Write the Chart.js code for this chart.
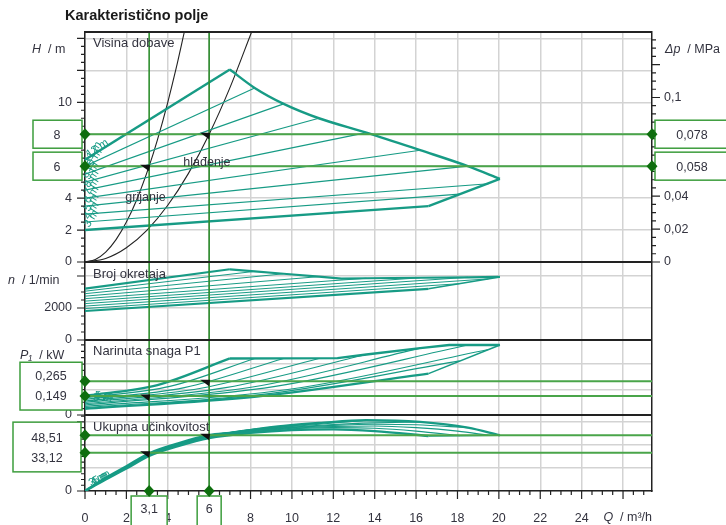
<!DOCTYPE html>
<html>
<head>
<meta charset="utf-8">
<script src="https://cdn.jsdelivr.net/npm/chart.js@4.4.1/dist/chart.umd.min.js"></script>
<style>
  html, body { margin: 0; padding: 0; background: #fff; }
  canvas { display: block; }
</style>
</head>
<body>
<canvas id="pump-chart" width="726" height="525"></canvas>
<script>
// control lines, index 0 = lowest (bold) ... 9 = highest (bold)
const setpoints = [3, 4, 5, 6, 7, 8, 9, 10, 11, 12];
const lineQEnd = [16.6, 18.1, 19.5, 18.5, 16.2, 13.6, 11.3, 9.6, 8.2, 7.0];

const headStart = [2.0, 2.5, 3.0, 3.5, 4.0, 4.5, 5.0, 5.5, 6.0, 6.4];
const headEnd = [3.5, 4.25, 4.9, 6.0, 7.0, 8.1, 9.0, 9.9, 10.9, 12.05];

const speedStart = [1810, 1965, 2120, 2275, 2430, 2585, 2740, 2895, 3050, 3206];
const speedEnd = [3200, 3520, 3820, 3920, 3890, 3860, 3960, 4140, 4290, 4420];

const powerStart = [0.049, 0.058, 0.068, 0.078, 0.088, 0.099, 0.110, 0.122, 0.135, 0.150];
const powerMidQ = [8.3, 9.0, 9.8, 9.2, 8.1, 6.8, 5.6, 4.8, 4.1, 3.5];
const powerMid = [0.145, 0.17, 0.2, 0.225, 0.22, 0.215, 0.21, 0.215, 0.225, 0.235];
const powerEnd = [0.325, 0.425, 0.515, 0.55, 0.525, 0.475, 0.444, 0.444, 0.444, 0.444];

const effQ = [
  [0, 1, 2, 3.1, 4.5, 6, 8, 10, 12, 14, 16.6],
  [0, 1, 2, 3.1, 4.5, 6, 8, 10, 12, 14, 16, 18.1],
  [0, 1, 2, 3.1, 4.5, 6, 8, 10, 12, 14, 16, 18, 19.5],
  [0, 1, 2, 3.1, 4.5, 6, 8, 10, 12, 14, 16, 18.5],
  [0, 1, 2, 3.1, 4.5, 6, 8, 10, 12, 14, 16.2],
  [0, 1, 2, 3.1, 4.5, 6, 8, 10, 12, 13.6],
  [0, 1, 2, 3.1, 4.5, 6, 8, 9.6, 11.3],
  [0, 1, 2, 3.1, 4.5, 6, 8, 9.6],
  [0, 1, 2, 3.1, 4.5, 6, 8.2],
  [0, 1, 2, 3.1, 4.5, 6, 7]
];
const effVal = [
  [0, 10, 19.5, 30.5, 39, 46, 50.5, 53, 53.5, 52, 47.8],
  [0, 10.2, 19.8, 31, 39.5, 46.5, 51, 54, 55, 54.5, 52, 48.1],
  [0, 10.4, 20, 31.3, 39.8, 47, 51.5, 54.5, 56, 56.5, 55, 52, 48.3],
  [0, 10.6, 20.3, 31.6, 40, 47.2, 52, 55, 57, 58, 57.5, 55],
  [0, 10.8, 20.5, 31.8, 40.2, 47.4, 52.3, 55.5, 57.8, 59.2, 60],
  [0, 11, 20.8, 32, 40.5, 47.6, 52.6, 56, 59, 61.5],
  [0, 11, 21, 32.2, 40.7, 47.8, 53, 56, 59],
  [0, 11.2, 21.2, 32.4, 41, 48, 53.3, 56.5],
  [0, 11.3, 21.3, 32.6, 41.2, 48.2, 53.5],
  [0, 11.4, 21.5, 32.8, 41.4, 48.4, 50.5]
];

// max speed boundary
const maxQ = [7.0, 8.2, 9.6, 11.3, 13.6, 16.2, 18.5, 20.05];
const maxHead = [12.05, 10.9, 9.9, 9.0, 8.1, 7.0, 6.0, 5.2];
const maxEff = [50.5, 53.5, 56.5, 59, 61.5, 60, 55, 48.4];
const maxSpeedQ = [7.0, 8.2, 9.6, 11.3, 12.4, 13.6, 16.2, 18.5, 20.05];
const maxSpeed = [4420, 4290, 4140, 3960, 3840, 3860, 3890, 3920, 3940];
const maxPowerQ = [7.0, 12.2, 13.6, 16.2, 17.6, 20.05];
const maxPower = [0.444, 0.447, 0.475, 0.525, 0.55, 0.55];

// lower right edge
const edgeQ = [16.6, 20.05];
const edgeHead = [3.5, 5.2];
const edgeSpeed = [3200, 3940];
const edgePower = [0.325, 0.55];
const edgeEff = [47.8, 48.4];

// system curves
const heatQ = [0, 0.5, 1, 1.5, 2, 2.5, 3.1, 3.5, 4, 4.4, 4.8];
const heatH = [0, 0.16, 0.62, 1.4, 2.5, 3.9, 6.0, 7.65, 10.0, 12.1, 14.4];
const coolQ = [0, 1, 2, 3, 4, 5, 6, 7, 8.05];
const coolH = [0, 0.22, 0.89, 2.0, 3.55, 5.55, 8.0, 10.9, 14.4];

// duty points
const dutyQ = [3.1, 6];
const dutyHead = [6, 8];
const dutyDp = [0.058, 0.078];
const dutyPower = [0.149, 0.265];
const dutyEff = [33.12, 48.51];

// axis tick labels
const xLabels = [0, 2, 4, 6, 8, 10, 12, 14, 16, 18, 20, 22, 24];
const hLabels = [0, 2, 4, 6, 8, 10];
const nLabels = [0, 2000];
const dpLabels = [0, 0.02, 0.04, 0.06, 0.08, 0.1];

const teal = '#179b85';
const gridGray = '#d3d3d3';
const green = '#4aa54a';
const greenDark = '#2f8f2f';
const diamondGreen = '#0e6e0e';
const textColor = '#33333f';
const font = 'Liberation Sans, Arial, sans-serif';

const mPerMPa = 103;
const hMax = 14.4;
const weights = { yH: 230, yN: 78, yP: 75, yE: 76 };
const dpMax = hMax / mPerMPa;
const dpMin = -dpMax * (weights.yN + weights.yP + weights.yE) / weights.yH;

const comma = v => String(v).replace('.', ',');
const near = (v, list) => list.some(l => Math.abs(v - l) < 1e-7);
const multiple = (v, step) => Math.abs(v / step - Math.round(v / step)) < 1e-6;
const pts = (qs, vs) => qs.map((q, i) => ({ x: q, y: vs[i] }));

// fixed tick positions so every minor tick shows
const tickRun = (from, to, step) => {
  const out = [];
  for (let k = 0; from + k * step <= to + 1e-9; k++) {
    out.push({ value: Math.round((from + k * step) * 1e6) / 1e6 });
  }
  return out;
};
const setTicks = (from, to, step) => scale => { scale.ticks = tickRun(from, to, step); };

const datasets = [];
const line = (axis, data, width, smooth) => datasets.push({
  yAxisID: axis, data, borderColor: teal, borderWidth: width, pointRadius: 0,
  fill: false, cubicInterpolationMode: smooth ? 'monotone' : 'default', tension: 0
});

setpoints.forEach((sp, i) => {
  const w = (i === 0 || i === setpoints.length - 1) ? 2.4 : 1.1;
  line('yH', pts([0, lineQEnd[i]], [headStart[i], headEnd[i]]), w, false);
  line('yN', pts([0, lineQEnd[i]], [speedStart[i], speedEnd[i]]), w * 0.9, false);
  line('yP', pts([0, powerMidQ[i], lineQEnd[i]], [powerStart[i], powerMid[i], powerEnd[i]]), w, true);
  line('yE', pts(effQ[i], effVal[i]), w, true);
});
line('yH', pts(maxQ, maxHead), 2.4, true);
line('yN', pts(maxSpeedQ, maxSpeed), 2.2, false);
line('yP', pts(maxPowerQ, maxPower), 2.4, false);
line('yE', pts(maxQ, maxEff), 2.4, true);
line('yH', pts(edgeQ, edgeHead), 2.4, false);
line('yN', pts(edgeQ, edgeSpeed), 1.5, false);
line('yP', pts(edgeQ, edgePower), 1.5, false);
line('yE', pts(edgeQ, edgeEff), 1.5, false);

[[heatQ, heatH], [coolQ, coolH]].forEach(([q, h]) => datasets.push({
  yAxisID: 'yH', data: pts(q, h), borderColor: '#222', borderWidth: 1.1,
  pointRadius: 0, fill: false, cubicInterpolationMode: 'monotone'
}));

const fixWidth = w => scale => { scale.width = w; };
const stackedAxis = (id, max, step, majorStep, labelFn) => ({
  type: 'linear', position: 'left', stack: 'panels', stackWeight: weights[id],
  min: 0, max,
  afterFit: fixWidth(85),
  afterBuildTicks: setTicks(0, max, step),
  border: { color: '#222', width: 1.5 },
  grid: {
    drawTicks: false,
    color: c => multiple(c.tick.value, majorStep) ? gridGray : 'rgba(0,0,0,0)',
    lineWidth: 1.5
  },
  ticks: {
    autoSkip: false, padding: 13, color: textColor, font: { size: 12.5, family: font },
    callback: labelFn
  }
});

const majorOf = { x: 2, yH: 2, yN: 2000, yP: 0.2, yE: 20, yDp: 0.02 };

function drawTicks(ctx, scale) {
  const major = majorOf[scale.id];
  ctx.beginPath();
  scale.ticks.forEach(t => {
    if (t.value < -1e-9) return;
    const len = multiple(t.value, major) ? 8 : 4;
    const p = scale.getPixelForValue(t.value);
    if (scale.id === 'x') { ctx.moveTo(p, scale.top); ctx.lineTo(p, scale.top + len); }
    else if (scale.id === 'yDp') { ctx.moveTo(scale.left, p); ctx.lineTo(scale.left + len, p); }
    else { ctx.moveTo(scale.right - len, p); ctx.lineTo(scale.right, p); }
  });
  ctx.stroke();
}

function axisTitle(ctx, sym, rest, x, y, align) {
  ctx.font = 'italic 12.5px ' + font;
  const w1 = ctx.measureText(sym).width;
  ctx.font = '12.5px ' + font;
  const w2 = ctx.measureText(rest).width;
  const x0 = align === 'right' ? x - w1 - w2 : x;
  ctx.textAlign = 'left';
  ctx.font = 'italic 12.5px ' + font;
  ctx.fillText(sym, x0, y);
  ctx.font = '12.5px ' + font;
  ctx.fillText(rest, x0 + w1, y);
}

function box(ctx, x, y, w, h) {
  ctx.fillStyle = '#fff';
  ctx.fillRect(x, y, w, h);
  ctx.strokeStyle = '#3d9d3d';
  ctx.lineWidth = 1.5;
  ctx.strokeRect(x, y, w, h);
}

function diamond(ctx, x, y) {
  ctx.fillStyle = diamondGreen;
  ctx.beginPath();
  ctx.moveTo(x, y - 6); ctx.lineTo(x + 5.5, y); ctx.lineTo(x, y + 6); ctx.lineTo(x - 5.5, y);
  ctx.closePath();
  ctx.fill();
}

const overlay = {
  id: 'overlay',
  afterDatasetsDraw(chart) {
    const { ctx, chartArea: a, scales: s } = chart;
    ctx.save();
    // setpoint labels at the start of the fan
    ctx.fillStyle = teal;
    ctx.font = '11px ' + font;
    ctx.textBaseline = 'alphabetic';
    setpoints.forEach((sp, i) => {
      const x0 = a.left + 4;
      const y0 = s.yH.getPixelForValue(headStart[i]) - 2;
      ctx.save();
      ctx.translate(x0, y0);
      ctx.rotate(i === setpoints.length - 1 ? -0.6 : -1.0);
      ctx.fillText(sp + ' m', 0, 0);
      ctx.restore();
    });
    [0, 1, 2].forEach(i => {
      ctx.save();
      ctx.translate(a.left + 8 + i, s.yP.getPixelForValue(powerStart[0]) - 8 - i);
      ctx.fillText(setpoints[i] + ' m', 0, 0);
      ctx.restore();
      ctx.save();
      ctx.translate(a.left + 6 + i * 2, s.yE.getPixelForValue(4) - i);
      ctx.rotate(-0.5);
      ctx.fillText(setpoints[i] + ' m', 0, 0);
      ctx.restore();
    });

    // duty lines
    ctx.strokeStyle = green;
    ctx.lineWidth = 2;
    const hLine = (sc, v) => {
      const y = sc.getPixelForValue(v);
      ctx.beginPath(); ctx.moveTo(a.left, y); ctx.lineTo(a.right, y); ctx.stroke();
    };
    dutyHead.forEach(v => hLine(s.yH, v));
    dutyPower.forEach(v => hLine(s.yP, v));
    dutyEff.forEach(v => hLine(s.yE, v));
    ctx.strokeStyle = greenDark;
    ctx.lineWidth = 1.6;
    dutyQ.forEach(q => {
      const x = s.x.getPixelForValue(q);
      ctx.beginPath(); ctx.moveTo(x, a.top); ctx.lineTo(x, a.bottom); ctx.stroke();
    });

    // duty point markers
    ctx.fillStyle = '#111';
    const mark = (x, y) => {
      ctx.beginPath();
      ctx.moveTo(x - 9, y - 1.5); ctx.lineTo(x + 1, y - 1.5); ctx.lineTo(x, y + 5); ctx.closePath();
      ctx.fill();
    };
    dutyQ.forEach((q, i) => {
      const x = s.x.getPixelForValue(q);
      mark(x, s.yH.getPixelForValue(dutyHead[i]));
      mark(x, s.yP.getPixelForValue(dutyPower[i]));
      mark(x, s.yE.getPixelForValue(dutyEff[i]));
    });

    // system curve names
    ctx.fillStyle = textColor;
    ctx.font = '12.5px ' + font;
    ctx.textBaseline = 'middle';
    ctx.fillText('grijanje', s.x.getPixelForValue(1.95), s.yH.getPixelForValue(4.05));
    ctx.fillText('hlađenje', s.x.getPixelForValue(4.75), s.yH.getPixelForValue(6.2));
    ctx.restore();
  },
  afterDraw(chart) {
    const { ctx, chartArea: a, scales: s } = chart;
    ctx.save();
    // panel separators and top frame
    ctx.strokeStyle = '#222';
    ctx.lineWidth = 1.8;
    [a.top, s.yH.bottom, s.yN.bottom, s.yP.bottom].forEach(y => {
      ctx.beginPath(); ctx.moveTo(a.left, y); ctx.lineTo(a.right, y); ctx.stroke();
    });
    // tick marks
    ctx.lineWidth = 1.2;
    ['x', 'yH', 'yN', 'yP', 'yE', 'yDp'].forEach(id => drawTicks(ctx, s[id]));

    // title, panel names, axis titles
    ctx.fillStyle = '#1a1a1a';
    ctx.textBaseline = 'middle';
    ctx.textAlign = 'left';
    ctx.font = 'bold 14.5px ' + font;
    ctx.fillText('Karakteristično polje', 65, 16);
    ctx.fillStyle = textColor;
    ctx.font = '13px ' + font;
    ctx.fillText('Visina dobave', a.left + 8, s.yH.top + 11);
    ctx.fillText('Broj okretaja', a.left + 8, s.yN.top + 12);
    ctx.fillText('Narinuta snaga P1', a.left + 8, s.yP.top + 11);
    ctx.fillText('Ukupna učinkovitost', a.left + 8, s.yE.top + 12);
    axisTitle(ctx, 'H', '  / m', 32, s.yH.top + 18);
    axisTitle(ctx, 'n', '  / 1/min', 8, s.yN.top + 19);
    axisTitle(ctx, 'P\u2081', '  / kW', 20, s.yP.top + 16);
    axisTitle(ctx, '\u0394p', '  / MPa', a.right + 13, s.yH.top + 18);
    axisTitle(ctx, 'Q', '  / m³/h', a.right, s.x.top + 27, 'right');

    // value boxes
    ctx.textAlign = 'center';
    ctx.font = '12.5px ' + font;
    dutyHead.forEach((v, i) => {
      const y = s.yH.getPixelForValue(v);
      box(ctx, 33, y - 14, 49, 28);
      box(ctx, a.right + 3, y - 14, 80, 28);
      ctx.fillStyle = textColor;
      ctx.fillText(String(v), 57, y + 1);
      ctx.fillText(comma(dutyDp[i]), a.right + 40, y + 1);
    });
    const pTop = s.yP.getPixelForValue(Math.max(...dutyPower));
    const pBot = s.yP.getPixelForValue(Math.min(...dutyPower));
    box(ctx, 20, pTop - 19, 62, pBot - pTop + 33);
    const eTop = s.yE.getPixelForValue(Math.max(...dutyEff));
    const eBot = s.yE.getPixelForValue(Math.min(...dutyEff));
    box(ctx, 13, eTop - 13, 68, eBot - eTop + 32);
    ctx.fillStyle = textColor;
    const pc = (pTop - 19 + pBot + 14) / 2;
    ctx.fillText(comma(Math.max(...dutyPower)), 51, pc - 10);
    ctx.fillText(comma(Math.min(...dutyPower)), 51, pc + 10);
    const ec = (eTop - 13 + eBot + 19) / 2;
    ctx.fillText(comma(Math.max(...dutyEff)), 47, ec - 8);
    ctx.fillText(comma(Math.min(...dutyEff)), 47, ec + 12);
    dutyQ.forEach(q => {
      const x = s.x.getPixelForValue(q);
      const label = comma(q);
      const w = label.length > 1 ? 36 : 24;
      box(ctx, x - w / 2, a.bottom + 5, w, 32);
      ctx.fillStyle = textColor;
      ctx.fillText(label, x, a.bottom + 19);
    });

    // diamonds
    dutyHead.forEach(v => {
      const y = s.yH.getPixelForValue(v);
      diamond(ctx, a.left, y);
      diamond(ctx, a.right, y);
    });
    dutyPower.forEach(v => diamond(ctx, a.left, s.yP.getPixelForValue(v)));
    dutyEff.forEach(v => diamond(ctx, a.left, s.yE.getPixelForValue(v)));
    dutyQ.forEach(q => diamond(ctx, s.x.getPixelForValue(q), a.bottom));
    ctx.restore();
  }
};

new Chart(document.getElementById('pump-chart'), {
  type: 'line',
  data: { datasets },
  options: {
    responsive: false,
    animation: false,
    devicePixelRatio: 1,
    layout: { padding: { top: 32, left: 0, right: 0, bottom: 0 } },
    plugins: { legend: { display: false }, tooltip: { enabled: false } },
    scales: {
      x: {
        type: 'linear', position: 'bottom', min: 0, max: 27.4,
        afterFit: scale => { scale.height = 34; },
        afterBuildTicks: setTicks(0, 27.4, 0.5),
        border: { color: '#222', width: 1.5 },
        grid: {
          drawTicks: false, lineWidth: 1.5,
          color: c => multiple(c.tick.value, 2) ? gridGray : 'rgba(0,0,0,0)'
        },
        ticks: {
          autoSkip: false, maxRotation: 0, padding: 20, color: textColor,
          font: { size: 12.5, family: font },
          callback: v => near(v, xLabels) ? String(v) : ''
        }
      },
      yDp: {
        type: 'linear', position: 'right', min: dpMin, max: dpMax,
        afterFit: fixWidth(74),
        afterBuildTicks: setTicks(0, dpMax, 0.005),
        border: { color: '#222', width: 1.5 },
        grid: { drawOnChartArea: false, drawTicks: false },
        ticks: {
          autoSkip: false, padding: 12, color: textColor, font: { size: 12.5, family: font },
          callback: v => near(v, dpLabels) ? comma(Math.round(v * 100) / 100) : ''
        }
      },
      yE: stackedAxis('yE', 66, 5, 20, v => near(v, [0]) ? '0' : ''),
      yP: stackedAxis('yP', 0.589, 0.05, 0.2, v => near(v, [0]) ? '0' : ''),
      yN: stackedAxis('yN', 4875, 500, 2000, v => near(v, nLabels) ? String(v) : ''),
      yH: stackedAxis('yH', hMax, 0.5, 2, v => near(v, hLabels) ? String(v) : '')
    }
  },
  plugins: [overlay]
});
</script>
</body>
</html>
